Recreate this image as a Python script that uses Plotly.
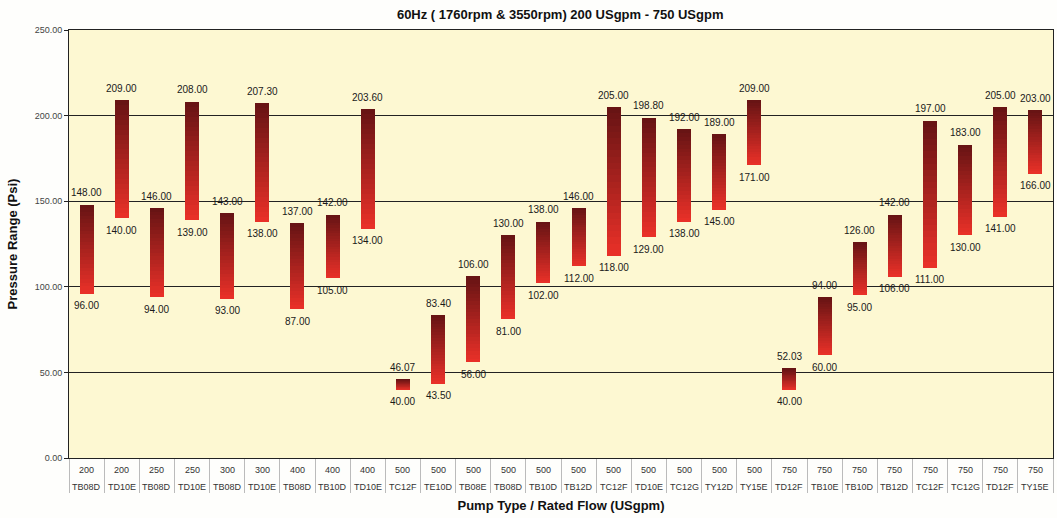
import plotly.graph_objects as go

flows = ["200", "200", "250", "250", "300", "300", "400", "400", "400",
         "500", "500", "500", "500", "500", "500", "500", "500", "500", "500", "500",
         "750", "750", "750", "750", "750", "750", "750", "750"]
pumps = ["TB08D", "TD10E", "TB08D", "TD10E", "TB08D", "TD10E", "TB08D", "TB10D", "TD10E",
         "TC12F", "TE10D", "TB08E", "TB08D", "TB10D", "TB12D", "TC12F", "TD10E", "TC12G", "TY12D", "TY15E",
         "TD12F", "TB10E", "TB10D", "TB12D", "TC12F", "TC12G", "TD12F", "TY15E"]
low = [96.00, 140.00, 94.00, 139.00, 93.00, 138.00, 87.00, 105.00, 134.00,
       40.00, 43.50, 56.00, 81.00, 102.00, 112.00, 118.00, 129.00, 138.00, 145.00, 171.00,
       40.00, 60.00, 95.00, 106.00, 111.00, 130.00, 141.00, 166.00]
high = [148.00, 209.00, 146.00, 208.00, 143.00, 207.30, 137.00, 142.00, 203.60,
        46.07, 83.40, 106.00, 130.00, 138.00, 146.00, 205.00, 198.80, 192.00, 189.00, 209.00,
        52.03, 94.00, 126.00, 142.00, 197.00, 183.00, 205.00, 203.00]
y_ticks = [0, 50, 100, 150, 200, 250]

xs = list(range(len(flows)))

top_rgb = (104, 20, 20)
bot_rgb = (232, 48, 40)
N = 24

fig = go.Figure()
for i in range(N):
    t = i / (N - 1)  # 0 bottom -> 1 top
    c = tuple(round(b + (a - b) * t) for a, b in zip(top_rgb, bot_rgb))
    color = f"rgb{c}"
    bases = [l + (h - l) * i / N for l, h in zip(low, high)]
    heights = [(h - l) / N * 1.02 for l, h in zip(low, high)]
    fig.add_trace(go.Bar(x=xs, y=heights, base=bases, width=0.4,
                         marker=dict(color=color, line=dict(width=0)),
                         showlegend=False, hoverinfo="skip"))

lab_font = dict(family="Arial", size=10, color="#1a1a1a")
ann = []
for x, h, l in zip(xs, high, low):
    ann.append(dict(x=x, y=h, text=f"{h:.2f}", showarrow=False, yshift=12,
                    yanchor="middle", font=lab_font))
    ann.append(dict(x=x, y=l, text=f"{l:.2f}", showarrow=False, yshift=-12,
                    yanchor="middle", font=lab_font))
tick_font = dict(family="Arial", size=9, color="#333")
for x, f, p in zip(xs, flows, pumps):
    ann.append(dict(x=x, xref="x", y=0, yref="paper", text=f, showarrow=False,
                    yshift=-12, yanchor="middle", font=tick_font))
    ann.append(dict(x=x, xref="x", y=0, yref="paper", text=p, showarrow=False,
                    yshift=-29, yanchor="middle", font=tick_font))

fig.update_layout(
    width=1057, height=518,
    margin=dict(l=69, r=4, t=30, b=60),
    paper_bgcolor="#fefefc",
    plot_bgcolor="#fdf8d2",
    barmode="overlay",
    bargap=0,
    annotations=ann,
    title=dict(text="<b>60Hz ( 1760rpm &amp; 3550rpm) 200 USgpm - 750 USgpm</b>",
               x=0.53, xanchor="center", y=0.973, yanchor="middle",
               font=dict(family="Arial", size=13, color="#111")),
    font=dict(family="Arial", color="#333"),
)
fig.update_xaxes(
    range=[-0.5, len(flows) - 0.5],
    tickmode="array", tickvals=xs, ticktext=[""] * len(xs),
    ticks="", showgrid=False, zeroline=False,
    showline=True, linecolor="#222", linewidth=1, mirror=True,
    minor=dict(tickmode="linear", tick0=-0.5, dtick=1, ticks="outside",
               ticklen=34, tickcolor="#bbbbbb", tickwidth=1, showgrid=False),
    title=dict(text="<b>Pump Type / Rated Flow (USgpm)</b>",
               font=dict(family="Arial", size=13, color="#111"), standoff=40),
)
fig.update_yaxes(
    range=[0, 250], tickvals=y_ticks, ticktext=[f"{v:.2f}" for v in y_ticks],
    tickfont=dict(family="Arial", size=9, color="#444"),
    ticks="outside", ticklen=4, tickcolor="#222",
    showgrid=True, gridcolor="#222", gridwidth=1, zeroline=False,
    showline=True, linecolor="#222", linewidth=1, mirror=True,
    title=dict(text="<b>Pressure Range (Psi)</b>",
               font=dict(family="Arial", size=13, color="#111"), standoff=14),
)

fig.write_html("out.html", config={"displayModeBar": False},
               post_script="document.body.style.margin='0';")
